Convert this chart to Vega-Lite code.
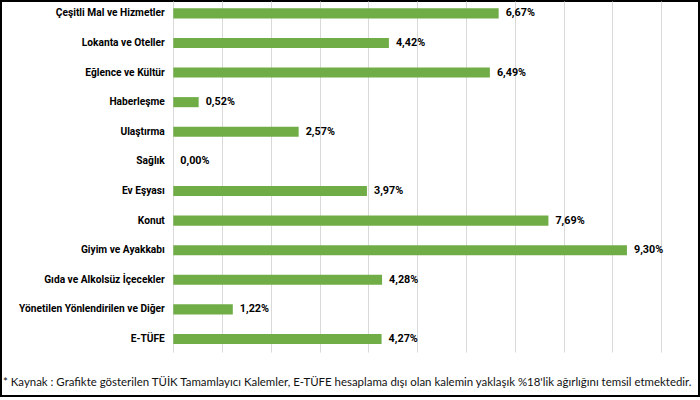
{
  "$schema": "https://vega.github.io/schema/vega-lite/v6.json",
  "width": 700,
  "height": 400,
  "autosize": {"type": "fit", "contains": "padding"},
  "padding": {"left": 1, "right": 1, "top": 1, "bottom": 4},
  "background": "white",
  "title": {
    "text": "*  Kaynak : Grafikte gösterilen TÜİK Tamamlayıcı Kalemler, E-TÜFE hesaplama dışı olan kalemin yaklaşık %18'lik ağırlığını temsil etmektedir.",
    "orient": "bottom",
    "anchor": "start",
    "frame": "group",
    "offset": -19,
    "dx": 2,
    "font": "Lato",
    "fontSize": 11.45,
    "fontWeight": "normal",
    "color": "#111111"
  },
  "data": {
    "values": [
      {"cat": "Çeşitli Mal ve Hizmetler", "v": 0.0667},
      {"cat": "Lokanta ve Oteller", "v": 0.0442},
      {"cat": "Eğlence ve Kültür", "v": 0.0649},
      {"cat": "Haberleşme", "v": 0.0052},
      {"cat": "Ulaştırma", "v": 0.0257},
      {"cat": "Sağlık", "v": 0.0},
      {"cat": "Ev Eşyası", "v": 0.0397},
      {"cat": "Konut", "v": 0.0769},
      {"cat": "Giyim ve Ayakkabı", "v": 0.093},
      {"cat": "Gıda ve Alkolsüz İçecekler", "v": 0.0428},
      {"cat": "Yönetilen Yönlendirilen ve Diğer", "v": 0.0122},
      {"cat": "E-TÜFE", "v": 0.0427}
    ]
  },
  "encoding": {
    "y": {
      "field": "cat",
      "type": "nominal",
      "sort": null,
      "scale": {"paddingInner": 0.659, "paddingOuter": 1.063, "align": 0.123},
      "axis": {
        "title": null,
        "offset": -172.3,
        "domain": false,
        "ticks": false,
        "grid": false,
        "labelPadding": 9,
        "labelFont": "Roboto",
        "labelFontSize": 10.2,
        "labelFontWeight": "bold",
        "labelColor": "#000000",
        "labelLimit": 300
      }
    },
    "x": {
      "field": "v",
      "type": "quantitative",
      "scale": {"domain": [-0.03532, 0.10777], "nice": false, "zero": false},
      "axis": {
        "orient": "top",
        "title": null,
        "labels": false,
        "ticks": false,
        "domain": false,
        "grid": true,
        "gridColor": "#d9d9d9",
        "gridWidth": 1,
        "gridDash": [351, 1000],
        "values": [0, 0.01, 0.02, 0.03, 0.04, 0.05, 0.06, 0.07, 0.08, 0.09, 0.1]
      }
    }
  },
  "layer": [
    {
      "mark": {"type": "bar", "color": "#70ad47"},
      "encoding": {"x2": {"datum": 0}}
    },
    {
      "mark": {"type": "text", "align": "left", "baseline": "middle", "dx": 7, "font": "Roboto", "fontSize": 10.8, "fontWeight": "bold", "color": "#000000"},
      "encoding": {"text": {"field": "v", "type": "quantitative", "format": ".2%"}}
    }
  ],
  "config": {
    "view": {"stroke": "#000000", "strokeWidth": 2},
    "locale": {"number": {"decimal": ",", "thousands": ".", "grouping": [3], "currency": ["", ""]}}
  }
}
